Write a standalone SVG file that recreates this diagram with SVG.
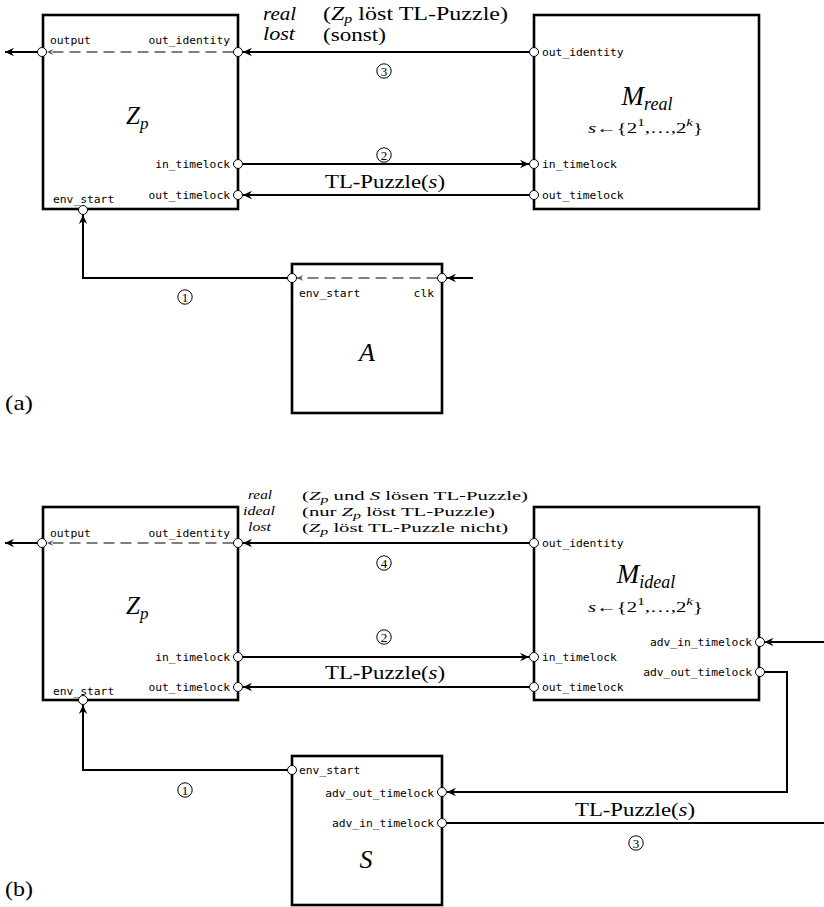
<svg xmlns="http://www.w3.org/2000/svg" width="824" height="907" viewBox="0 0 824 907">
<style>
.box{fill:#fff;stroke:#000;stroke-width:2.6}
.port{fill:#fff;stroke:#000;stroke-width:1}
.ln{fill:none;stroke:#000;stroke-width:2}
.dash{fill:none;stroke:#555;stroke-width:1.5;stroke-dasharray:11,6}
.mono{font-family:"DejaVu Sans Mono","Liberation Mono",monospace;font-size:11.3px;fill:#000}
.ser{font-family:"Liberation Serif","DejaVu Serif",serif;fill:#000}
.it{font-style:italic}
.num{fill:#fff;stroke:#000;stroke-width:1}
</style>
<defs>
<marker id="ah" viewBox="-10 -5 11 10" refX="0" refY="0" markerWidth="11" markerHeight="10" markerUnits="userSpaceOnUse" orient="auto">
<path d="M0,0 L-9,-4.2 L-6,0 L-9,4.2 Z" fill="#000"/>
</marker>
<marker id="ahg" viewBox="-10 -5 11 10" refX="0" refY="0" markerWidth="9" markerHeight="8" markerUnits="userSpaceOnUse" orient="auto">
<path d="M0,0 L-8,-3.6 L-5,0 L-8,3.6 Z" fill="#555"/>
</marker>
</defs>

<!-- ========== (a) ========== -->
<g id="Zp_a">
<rect class="box" x="43" y="15" width="195" height="194"/>
<text class="mono" x="50" y="44">output</text>
<text class="mono" x="230" y="44" text-anchor="end">out_identity</text>
<text class="mono" x="230" y="168" text-anchor="end">in_timelock</text>
<text class="mono" x="230" y="199" text-anchor="end">out_timelock</text>
<text class="mono" x="53" y="203">env_start</text>
<text class="ser it" x="126" y="124" font-size="25">Z<tspan font-size="17" dy="5">p</tspan></text>
</g>
<g id="Mreal">
<rect class="box" x="534" y="15" width="225" height="194"/>
<text class="mono" x="542" y="55.5">out_identity</text>
<text class="mono" x="542" y="168">in_timelock</text>
<text class="mono" x="542" y="199">out_timelock</text>
<text class="ser it" x="647" y="105" font-size="27" text-anchor="middle">M<tspan font-size="18" dy="5">real</tspan></text>
<text class="ser" x="588" y="133" font-size="15" textLength="115" lengthAdjust="spacingAndGlyphs"><tspan class="it">s</tspan>←{2<tspan font-size="11" dy="-7">1</tspan><tspan dy="7">,…,2</tspan><tspan font-size="11" dy="-7" class="it">k</tspan><tspan dy="7">}</tspan></text>
</g>
<g id="A">
<rect class="box" x="292" y="264" width="150" height="149"/>
<text class="mono" x="299" y="297">env_start</text>
<text class="mono" x="434" y="297" text-anchor="end">clk</text>
<text class="ser it" x="367" y="361" font-size="26" text-anchor="middle">A</text>
</g>

<g id="labels_a">
<text class="ser it" x="263" y="20" font-size="18" textLength="33" lengthAdjust="spacingAndGlyphs">real</text>
<text class="ser it" x="263" y="40" font-size="18" textLength="32" lengthAdjust="spacingAndGlyphs">lost</text>
<text class="ser" x="323" y="20" font-size="18" textLength="185" lengthAdjust="spacingAndGlyphs">(<tspan class="it">Z</tspan><tspan class="it" font-size="12" dy="3">p</tspan><tspan dy="-3"> löst TL-Puzzle)</tspan></text>
<text class="ser" x="323" y="41" font-size="18" textLength="63" lengthAdjust="spacingAndGlyphs">(sonst)</text>
<text class="ser" x="325" y="188" font-size="19" textLength="120" lengthAdjust="spacingAndGlyphs">TL-Puzzle(<tspan class="it">s</tspan>)</text>
<text class="ser" x="5" y="410" font-size="21" textLength="28" lengthAdjust="spacingAndGlyphs">(a)</text>
</g>

<g id="connectors_a">
<line class="ln" x1="37.5" y1="52" x2="5" y2="52" marker-end="url(#ah)"/>
<line class="dash" x1="233.5" y1="52" x2="47" y2="52" marker-end="url(#ahg)"/>
<line class="ln" x1="529.5" y1="52" x2="243" y2="52" marker-end="url(#ah)"/>
<line class="ln" x1="242.5" y1="164" x2="529" y2="164" marker-end="url(#ah)"/>
<line class="ln" x1="529.5" y1="195" x2="243" y2="195" marker-end="url(#ah)"/>
<path class="ln" d="M287.5,278 H83 V215" marker-end="url(#ah)"/>
<line class="ln" x1="473" y1="278" x2="447" y2="278" marker-end="url(#ah)"/>
<line class="dash" x1="437.5" y1="278" x2="297" y2="278" marker-end="url(#ahg)"/>
</g>
<g id="ports_a">
<circle class="port" cx="42" cy="52" r="4.5"/>
<circle class="port" cx="238" cy="52" r="4.5"/>
<circle class="port" cx="238" cy="164" r="4.5"/>
<circle class="port" cx="238" cy="195" r="4.5"/>
<circle class="port" cx="83" cy="210" r="4.5"/>
<circle class="port" cx="534" cy="52" r="4.5"/>
<circle class="port" cx="534" cy="164" r="4.5"/>
<circle class="port" cx="534" cy="195" r="4.5"/>
<circle class="port" cx="292" cy="278" r="4.5"/>
<circle class="port" cx="442" cy="278" r="4.5"/>
</g>
<g id="steps_a">
<circle class="num" cx="384" cy="71" r="7.2"/><text class="ser" x="384" y="75.5" font-size="13" text-anchor="middle">3</text>
<circle class="num" cx="384" cy="155" r="7.2"/><text class="ser" x="384" y="159.5" font-size="13" text-anchor="middle">2</text>
<circle class="num" cx="185" cy="297" r="7.2"/><text class="ser" x="185" y="301.5" font-size="13" text-anchor="middle">1</text>
</g>

<!-- ========== (b) ========== -->
<g id="Zp_b">
<rect class="box" x="43" y="507" width="195" height="193"/>
<text class="mono" x="50" y="537">output</text>
<text class="mono" x="230" y="537" text-anchor="end">out_identity</text>
<text class="mono" x="230" y="661" text-anchor="end">in_timelock</text>
<text class="mono" x="230" y="691" text-anchor="end">out_timelock</text>
<text class="mono" x="53" y="695">env_start</text>
<text class="ser it" x="126" y="614" font-size="25">Z<tspan font-size="17" dy="5">p</tspan></text>
</g>
<g id="Mideal">
<rect class="box" x="534" y="507" width="225" height="193"/>
<text class="mono" x="542" y="547">out_identity</text>
<text class="mono" x="542" y="661">in_timelock</text>
<text class="mono" x="542" y="691">out_timelock</text>
<text class="mono" x="752" y="646" text-anchor="end">adv_in_timelock</text>
<text class="mono" x="752" y="676" text-anchor="end">adv_out_timelock</text>
<text class="ser it" x="646" y="583" font-size="27" text-anchor="middle">M<tspan font-size="18" dy="5">ideal</tspan></text>
<text class="ser" x="588" y="612" font-size="15" textLength="115" lengthAdjust="spacingAndGlyphs"><tspan class="it">s</tspan>←{2<tspan font-size="11" dy="-7">1</tspan><tspan dy="7">,…,2</tspan><tspan font-size="11" dy="-7" class="it">k</tspan><tspan dy="7">}</tspan></text>
</g>
<g id="S">
<rect class="box" x="292" y="756" width="150" height="149"/>
<text class="mono" x="299" y="774">env_start</text>
<text class="mono" x="434" y="797" text-anchor="end">adv_out_timelock</text>
<text class="mono" x="434" y="827" text-anchor="end">adv_in_timelock</text>
<text class="ser it" x="366" y="868" font-size="26" text-anchor="middle">S</text>
</g>

<g id="labels_b">
<text class="ser it" x="248" y="499" font-size="13" textLength="24" lengthAdjust="spacingAndGlyphs">real</text>
<text class="ser it" x="243" y="515" font-size="13" textLength="32" lengthAdjust="spacingAndGlyphs">ideal</text>
<text class="ser it" x="248" y="531" font-size="13" textLength="23" lengthAdjust="spacingAndGlyphs">lost</text>
<text class="ser" x="302" y="500" font-size="13" textLength="226" lengthAdjust="spacingAndGlyphs">(<tspan class="it">Z</tspan><tspan class="it" font-size="10" dy="3">p</tspan><tspan dy="-3"> und </tspan><tspan class="it">S</tspan><tspan> lösen TL-Puzzle)</tspan></text>
<text class="ser" x="302" y="516" font-size="13" textLength="193" lengthAdjust="spacingAndGlyphs">(nur <tspan class="it">Z</tspan><tspan class="it" font-size="10" dy="3">p</tspan><tspan dy="-3"> löst TL-Puzzle)</tspan></text>
<text class="ser" x="302" y="532" font-size="13" textLength="206" lengthAdjust="spacingAndGlyphs">(<tspan class="it">Z</tspan><tspan class="it" font-size="10" dy="3">p</tspan><tspan dy="-3"> löst TL-Puzzle nicht)</tspan></text>
<text class="ser" x="325" y="679" font-size="19" textLength="120" lengthAdjust="spacingAndGlyphs">TL-Puzzle(<tspan class="it">s</tspan>)</text>
<text class="ser" x="575" y="816" font-size="19" textLength="120" lengthAdjust="spacingAndGlyphs">TL-Puzzle(<tspan class="it">s</tspan>)</text>
<text class="ser" x="5" y="896" font-size="21" textLength="28" lengthAdjust="spacingAndGlyphs">(b)</text>
</g>

<g id="connectors_b">
<line class="ln" x1="37.5" y1="543" x2="5" y2="543" marker-end="url(#ah)"/>
<line class="dash" x1="233.5" y1="543" x2="47" y2="543" marker-end="url(#ahg)"/>
<line class="ln" x1="529.5" y1="543" x2="243" y2="543" marker-end="url(#ah)"/>
<line class="ln" x1="242.5" y1="657" x2="529" y2="657" marker-end="url(#ah)"/>
<line class="ln" x1="529.5" y1="687" x2="243" y2="687" marker-end="url(#ah)"/>
<path class="ln" d="M287.5,770 H83 V705" marker-end="url(#ah)"/>
<line class="ln" x1="824" y1="642" x2="764.5" y2="642" marker-end="url(#ah)"/>
<path class="ln" d="M764.5,672 H787 V792 H447" marker-end="url(#ah)"/>
<path class="ln" d="M446.5,823 H824"/>
</g>
<g id="ports_b">
<circle class="port" cx="42" cy="543" r="4.5"/>
<circle class="port" cx="238" cy="543" r="4.5"/>
<circle class="port" cx="238" cy="657" r="4.5"/>
<circle class="port" cx="238" cy="687" r="4.5"/>
<circle class="port" cx="83" cy="700" r="4.5"/>
<circle class="port" cx="534" cy="543" r="4.5"/>
<circle class="port" cx="534" cy="657" r="4.5"/>
<circle class="port" cx="534" cy="687" r="4.5"/>
<circle class="port" cx="760" cy="642" r="4.5"/>
<circle class="port" cx="760" cy="672" r="4.5"/>
<circle class="port" cx="292" cy="770" r="4.5"/>
<circle class="port" cx="442" cy="792" r="4.5"/>
<circle class="port" cx="442" cy="823" r="4.5"/>
</g>
<g id="steps_b">
<circle class="num" cx="384" cy="563" r="7.2"/><text class="ser" x="384" y="567.5" font-size="13" text-anchor="middle">4</text>
<circle class="num" cx="384" cy="637" r="7.2"/><text class="ser" x="384" y="641.5" font-size="13" text-anchor="middle">2</text>
<circle class="num" cx="185" cy="790" r="7.2"/><text class="ser" x="185" y="794.5" font-size="13" text-anchor="middle">1</text>
<circle class="num" cx="636" cy="843" r="7.2"/><text class="ser" x="636" y="847.5" font-size="13" text-anchor="middle">3</text>
</g>
</svg>
